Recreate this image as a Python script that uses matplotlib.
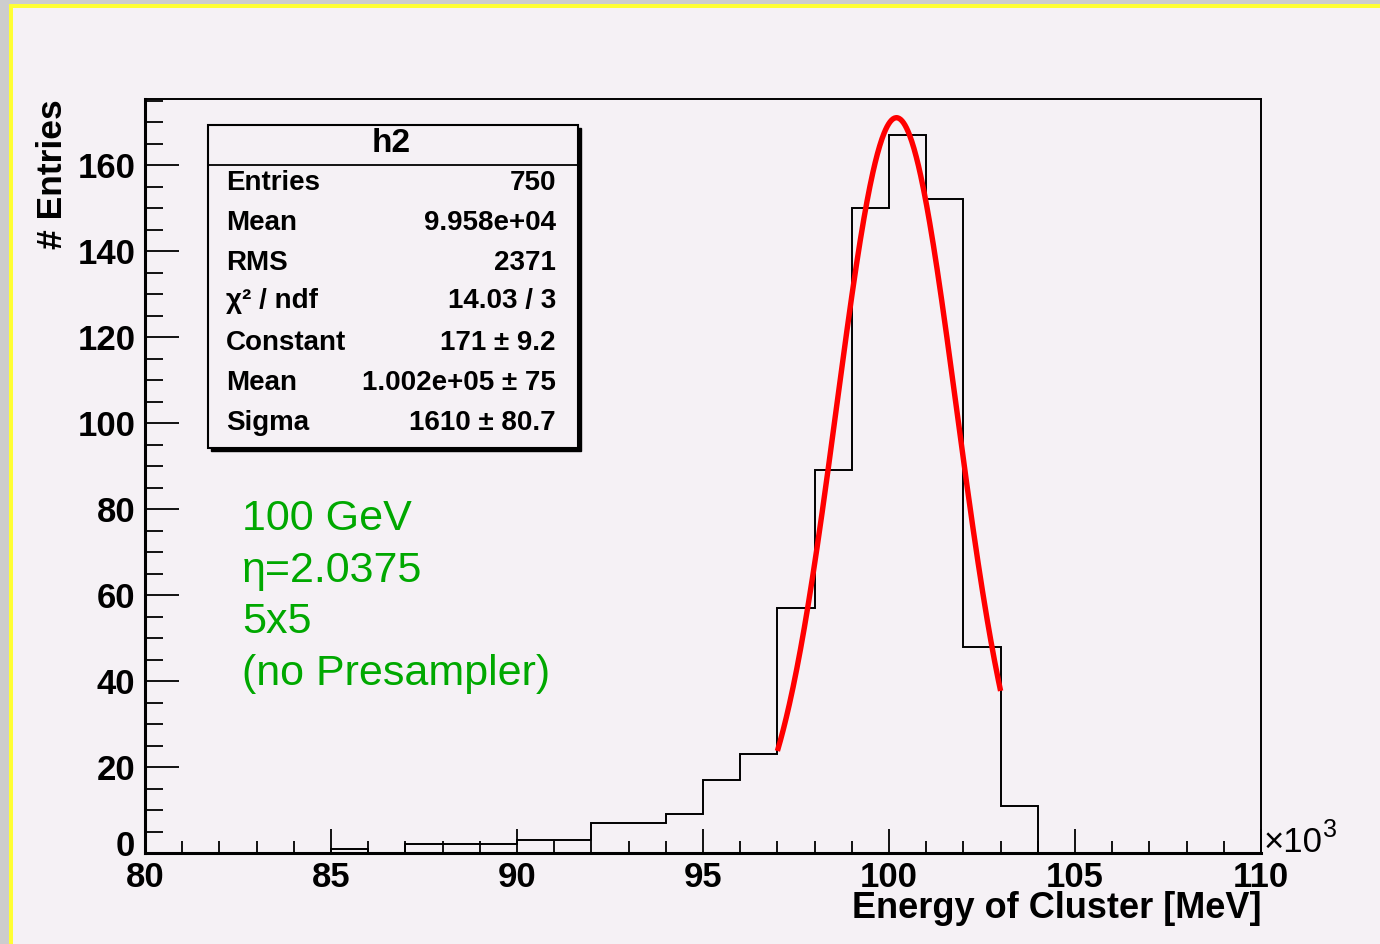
import numpy as np
import matplotlib
matplotlib.use("Agg")
import matplotlib.pyplot as plt
from matplotlib.patches import Rectangle
from matplotlib.lines import Line2D
from matplotlib.ticker import MultipleLocator, FuncFormatter

plt.rcParams["font.family"] = ["Liberation Sans", "DejaVu Sans"]
plt.rcParams["font.weight"] = "bold"

# Histogram h2: energy of cluster, 1 GeV bins from 80 to 110 GeV
bin_edges = np.arange(80000, 111000, 1000)
bin_counts = [0, 0, 0, 0, 0, 1, 0, 2, 2, 2,
              3, 3, 7, 7, 9, 17, 23, 57, 89, 150,
              167, 152, 48, 11, 0, 0, 0, 0, 0, 0]

# Gaussian fit parameters and fit range
fit_constant = 171.0
fit_mean = 100200.0
fit_sigma = 1610.0
fit_range = (97000, 103000)

# Stats box
stat_title = "h2"
stat_labels = ["Entries", "Mean", "RMS", "χ² / ndf", "Constant", "Mean", "Sigma"]
stat_values = ["750", "9.958e+04", "2371", "14.03 / 3",
               "171 ± 9.2", "1.002e+05 ± 75", "1610 ± 80.7"]

# Annotation
note_lines = ["100 GeV", "η=2.0375", "5x5", "(no Presampler)"]

W, H = 1380, 944
BG = "#f5f1f5"


def fx(px):
    return px / W


def fy(py):
    return 1 - py / H


fig = plt.figure(figsize=(W / 100, H / 100), dpi=100, facecolor="#cdcdcd")

# yellow frame and pad background
fig.add_artist(Rectangle((fx(9), 0), 1 - fx(9), fy(4), transform=fig.transFigure,
                         facecolor="#ffff33", edgecolor="none", zorder=-10))
fig.add_artist(Rectangle((fx(13), 0), 1 - fx(13), fy(8), transform=fig.transFigure,
                         facecolor=BG, edgecolor="none", zorder=-9))

ax = fig.add_axes([fx(145), fy(853), fx(1261) - fx(145), fy(99) - fy(853)], facecolor=BG)

ax.stairs(bin_counts, bin_edges, color="black", lw=1.4, zorder=3)

xfit = np.linspace(fit_range[0], fit_range[1], 300)
yfit = fit_constant * np.exp(-0.5 * ((xfit - fit_mean) / fit_sigma) ** 2)
ax.plot(xfit, yfit, color="red", lw=3.9, zorder=4, solid_capstyle="butt")

ax.set_xlim(80000, 110000)
ax.set_ylim(0, 1.05 * max(bin_counts))

ax.spines["left"].set_linewidth(2.2)
ax.spines["bottom"].set_linewidth(2.2)
ax.spines["top"].set_linewidth(1.4)
ax.spines["right"].set_linewidth(1.4)

ax.xaxis.set_major_locator(MultipleLocator(5000))
ax.xaxis.set_minor_locator(MultipleLocator(1000))
ax.xaxis.set_major_formatter(FuncFormatter(lambda v, p: "%g" % (v / 1000)))
ax.yaxis.set_major_locator(MultipleLocator(20))
ax.yaxis.set_minor_locator(MultipleLocator(5))
# the "0" label sits a little higher, drawn separately below
ax.yaxis.set_major_formatter(FuncFormatter(lambda v, p: "" if v == 0 else "%g" % v))

ax.tick_params(which="both", direction="in", top=False, right=False, color="black")
ax.tick_params(axis="x", which="major", length=17, width=1.3, pad=6, labelsize=25)
ax.tick_params(axis="x", which="minor", length=8.6, width=1.3)
ax.tick_params(axis="y", which="major", length=24.5, width=1.3, pad=7, labelsize=25)
ax.tick_params(axis="y", which="minor", length=13, width=1.3)

fig.text(fx(135), fy(847), "0", ha="right", va="center", fontsize=25)

# axis titles
fig.text(fx(1261), fy(909), "Energy of Cluster [MeV]", ha="right", va="center",
         fontsize=26)
fig.text(fx(53), fy(99), "# Entries", rotation=90, ha="center", va="top", fontsize=25.5)
fig.text(fx(1264), fy(843), "×10", ha="left", va="center", fontsize=25,
         fontweight="normal")
fig.text(fx(1323), fy(830), "3", ha="left", va="center", fontsize=18,
         fontweight="normal")

# stats box
bx0, by0, bx1, by1 = 208, 125, 578, 448
fig.add_artist(Rectangle((fx(bx0 + 3), fy(by1 + 3)), fx(bx1) - fx(bx0), fy(by0) - fy(by1),
                         transform=fig.transFigure, facecolor="black",
                         edgecolor="black", lw=1.0, zorder=5))
fig.add_artist(Rectangle((fx(bx0), fy(by1)), fx(bx1) - fx(bx0), fy(by0) - fy(by1),
                         transform=fig.transFigure, facecolor=BG,
                         edgecolor="black", lw=1.5, zorder=6))
fig.add_artist(Line2D([fx(bx0), fx(bx1)], [fy(165), fy(165)], transform=fig.transFigure,
                      color="black", lw=1.3, zorder=7))
fig.text(fx(391), fy(144), stat_title, ha="center", va="center", fontsize=24, zorder=8)
row_y = [183, 223, 263, 301, 343, 383, 423]
for lab, val, yy in zip(stat_labels, stat_values, row_y):
    fig.text(fx(226), fy(yy), lab, ha="left", va="center", fontsize=20, zorder=8)
    fig.text(fx(556), fy(yy), val, ha="right", va="center", fontsize=20, zorder=8)

# green annotation
note_y = [519, 571, 622, 674]
for line, yy in zip(note_lines, note_y):
    fig.text(fx(242), fy(yy), line, ha="left", va="center", fontsize=31,
             fontweight="normal", color="#00a800")

fig.savefig("out.png", dpi=100, facecolor=fig.get_facecolor())
